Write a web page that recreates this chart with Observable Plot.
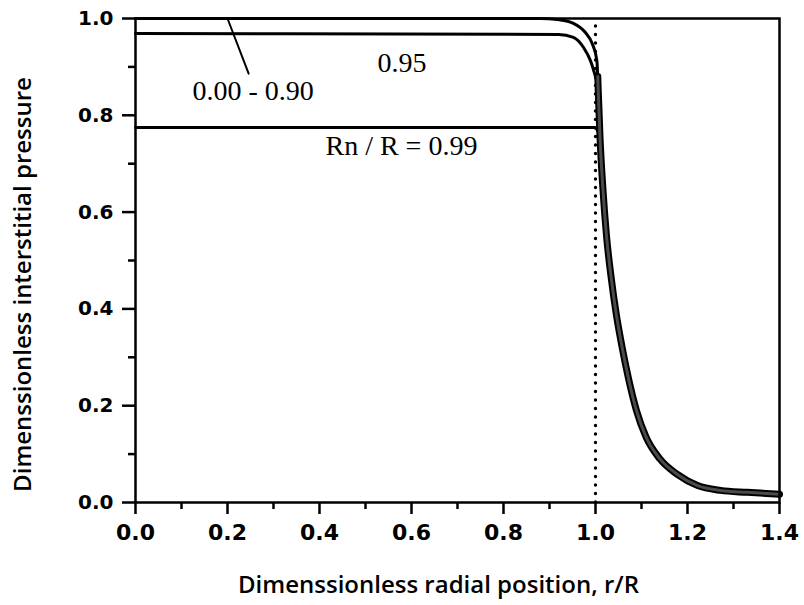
<!DOCTYPE html>
<html>
<head>
<meta charset="utf-8">
<script src="https://cdn.jsdelivr.net/npm/d3@7"></script>
<script src="https://cdn.jsdelivr.net/npm/@observablehq/plot@0.6"></script>
<style>
  html, body { margin: 0; padding: 0; background: #fff; }
  #chart { width: 804px; height: 605px; }
</style>
</head>
<body>
<div id="chart"></div>
<script>
// Axis ticks
const xMajor = [0, 0.2, 0.4, 0.6, 0.8, 1.0, 1.2, 1.4];
const xMinor = [0.1, 0.3, 0.5, 0.7, 0.9, 1.1, 1.3];
const yMajor = [0, 0.2, 0.4, 0.6, 0.8, 1.0];
const yMinor = [0.1, 0.3, 0.5, 0.7, 0.9];

// Curve Rn/R = 0.00 - 0.90
const rA = [0, 0.88, 0.917, 0.952, 0.978, 0.993, 1.003, 1.006];
const pA = [1.0, 1.0, 0.998, 0.99, 0.971, 0.948, 0.913, 0.85];
// Curve Rn/R = 0.95
const rB = [0, 0.92, 0.952, 0.974, 0.989, 1.003];
const pB = [0.969, 0.967, 0.961, 0.94, 0.913, 0.87];
// Curve Rn/R = 0.99
const rC = [0, 0.998, 1.009];
const pC = [0.775, 0.775, 0.76];
// Common drop beyond r/R = 1
const rD = [1.005, 1.006, 1.010, 1.016, 1.024, 1.034, 1.045, 1.058, 1.072, 1.089, 1.11, 1.14, 1.178, 1.222, 1.272, 1.33, 1.40];
const pD = [0.88, 0.85, 0.75, 0.65, 0.55, 0.465, 0.39, 0.32, 0.255, 0.19, 0.135, 0.09, 0.058, 0.035, 0.025, 0.021, 0.017];

// Annotations
const annText = ["0.00 - 0.90", "0.95", "Rn / R = 0.99"];
const annX = [0.124, 0.526, 0.413];
const annY = [0.851, 0.909, 0.736];
const leaderX = [0.2, 0.246];
const leaderY = [1.0, 0.886];

const xTitle = "Dimenssionless radial position, r/R";
const yTitle = "Dimenssionless interstitial pressure";

const toPts = (rs, ps, id) => rs.map((r, i) => ({r, p: ps[i], id}));
const curves = [...toPts(rA, pA, "A"), ...toPts(rB, pB, "B"), ...toPts(rC, pC, "C")];
const drop = toPts(rD, pD, "D");
const ann = annText.map((t, i) => ({t, x: annX[i], y: annY[i]}));
const leader = leaderX.map((x, i) => ({x, y: leaderY[i]}));
const fmt = d3.format(".1f");

const chart = Plot.plot({
  width: 804,
  height: 605,
  marginLeft: 135,
  marginRight: 25,
  marginTop: 18,
  marginBottom: 103,
  x: {domain: [0, 1.4]},
  y: {domain: [0, 1]},
  style: {background: "#fff", color: "#000", fontFamily: "DejaVu Sans"},
  marks: [
    Plot.ruleX([1.0], {y1: 0, y2: 1, stroke: "#000", strokeWidth: 3.4, strokeDasharray: "0 8.5", strokeLinecap: "round"}),
    Plot.line(curves, {x: "r", y: "p", z: "id", stroke: "#000", strokeWidth: 3, curve: "monotone-x"}),
    Plot.line(drop, {x: "r", y: "p", stroke: "#000", strokeWidth: 7, curve: "monotone-x", strokeLinecap: "round"}),
    Plot.line(drop, {x: "r", y: "p", stroke: "#4a4a4a", strokeWidth: 3, curve: "monotone-x", strokeLinecap: "round"}),
    Plot.line(leader, {x: "x", y: "y", stroke: "#000", strokeWidth: 2}),
    Plot.frame({stroke: "#000", strokeWidth: 2.5}),
    Plot.axisX(xMajor, {tickSize: 12, tickPadding: 10, tickFormat: fmt, fontSize: 22, fontWeight: "bold", strokeWidth: 2.5, label: null}),
    Plot.axisX(xMinor, {tickSize: 7, tickFormat: () => "", strokeWidth: 2.5, label: null}),
    Plot.axisY(yMajor, {tickSize: 13, tickPadding: 9, tickFormat: fmt, fontSize: 20, fontWeight: "bold", strokeWidth: 2.5, label: null}),
    Plot.axisY(yMinor, {tickSize: 7, tickFormat: () => "", strokeWidth: 2.5, label: null}),
    Plot.text(ann, {x: "x", y: "y", text: "t", textAnchor: "start", lineAnchor: "middle", fontFamily: "Liberation Serif", fontSize: 28, fill: "#000"}),
    Plot.text([xTitle], {frameAnchor: "bottom", dx: -19, dy: 83, textAnchor: "middle", lineAnchor: "middle", text: d => d, fontFamily: "Open Sans", fontWeight: 600, fontSize: 24, fill: "#000"}),
    Plot.text([yTitle], {frameAnchor: "left", dx: -112, dy: 24, rotate: -90, textAnchor: "middle", lineAnchor: "middle", text: d => d, fontFamily: "Open Sans", fontWeight: 600, fontSize: 24, fill: "#000"})
  ]
});
document.getElementById("chart").appendChild(chart);
</script>
</body>
</html>
